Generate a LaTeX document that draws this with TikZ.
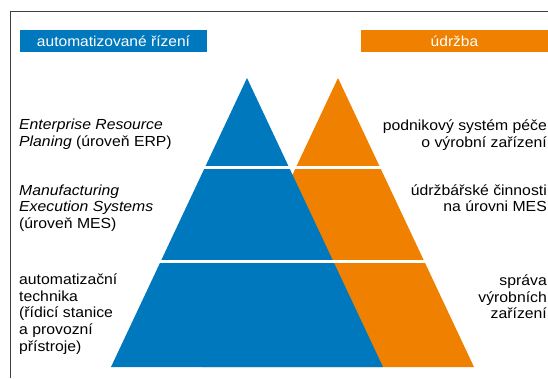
\documentclass[tikz,border=0pt]{standalone}
\usepackage{fontspec}
\setmainfont{Liberation Sans}[FakeStretch=1.08]
\definecolor{ablue}{RGB}{0,120,190}
\definecolor{aorange}{RGB}{240,128,0}

\begin{document}
\begin{tikzpicture}[x=1pt,y=-1pt,
	text node/.style={inner sep=0pt,font=\fontsize{14.6}{16.6}\selectfont},
	head node/.style={inner sep=0pt,minimum width=187pt,minimum height=21.7pt,text=white,font=\fontsize{14.4}{16.6}\selectfont}]
	
	\useasboundingbox (0,0) rectangle (548,378);
	\draw[black!75,line width=1pt] (10.7,378) -- (10.7,11.7) -- (548,11.7);
	
	\node[head node,fill=ablue] (rizeni) at (113.5,40.8) {automatizované řízení};
	\node[head node,fill=aorange] (udrzba) at (454.5,40.8) {údržba};
	
	% pyramids, orange one behind the blue one
	\fill[aorange] (202,367) -- (338,78) -- (474,367) -- cycle;
	\fill[ablue] (111,367) -- (247,78) -- (383,367) -- cycle;
	\draw[white,line width=3pt] (150,167) -- (440,167);
	\draw[white,line width=3pt] (150,261) -- (440,261);
	
	\node[text node,anchor=west,align=left] (erp) at (19,134.5) {\textit{Enterprise Resource}\\\textit{Planing} (úroveň ERP)};
	\node[text node,anchor=west,align=left] (mes) at (19,208) {\textit{Manufacturing}\\\textit{Execution Systems}\\(úroveň MES)};
	\node[text node,anchor=west,align=left] (tech) at (19,314) {automatizační\\technika\\(řídicí stanice\\a provozní\\přístroje)};
	
	\node[text node,anchor=east,align=right] (pece) at (547,135.3) {podnikový systém péče\\o výrobní zařízení};
	\node[text node,anchor=east,align=right] (cinnosti) at (547,198) {údržbářské činnosti\\na úrovni MES};
	\node[text node,anchor=east,align=right] (sprava) at (547,296.7) {správa\\výrobních\\zařízení};
	
\end{tikzpicture}
\end{document}
